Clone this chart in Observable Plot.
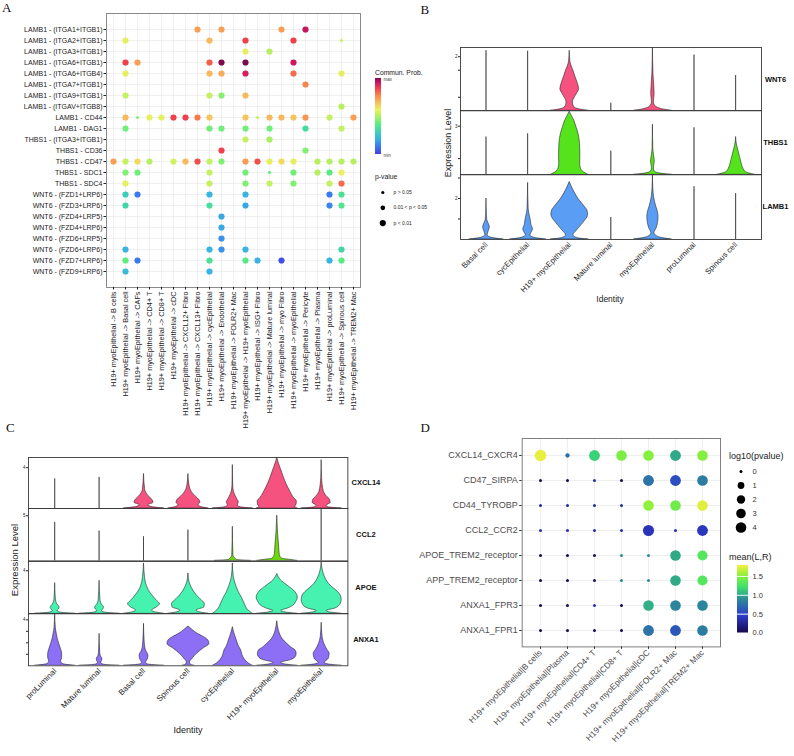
<!DOCTYPE html>
<html><head><meta charset="utf-8">
<script src="https://cdn.jsdelivr.net/npm/d3@7"></script>
<script src="https://cdn.jsdelivr.net/npm/@observablehq/plot@0.6"></script>
<style>
body{margin:0;background:#fff;}
#fig{position:relative;width:794px;height:756px;overflow:hidden;background:#fff;font-family:"Liberation Sans",Arial,sans-serif;}
</style></head><body><div id="fig"></div>
<script>
// ---------------- DATA ----------------
// Panel A
const sourceA = "H19+ myoEpithelial";
const targetsA = ["B cells","Basal cell","CAFs","CD4+ T","CD8+ T","cDC","CXCL12+ Fibro","CXCL13+ Fibro","cycEpithelial","Endothelial","FOLR2+ Mac","H19+ myoEpithelial","ISG+ Fibro","Mature luminal","myo Fibro","myoEpithelial","Pericyte","Plasma","proLuminal","Spinous cell","TREM2+ Mac"];
const pairsA = ["LAMB1 - (ITGA1+ITGB1)","LAMB1 - (ITGA2+ITGB1)","LAMB1 - (ITGA3+ITGB1)","LAMB1 - (ITGA6+ITGB1)","LAMB1 - (ITGA6+ITGB4)","LAMB1 - (ITGA7+ITGB1)","LAMB1 - (ITGA9+ITGB1)","LAMB1 - (ITGAV+ITGB8)","LAMB1 - CD44","LAMB1 - DAG1","THBS1 - (ITGA3+ITGB1)","THBS1 - CD36","THBS1 - CD47","THBS1 - SDC1","THBS1 - SDC4","WNT6 - (FZD1+LRP6)","WNT6 - (FZD3+LRP6)","WNT6 - (FZD4+LRP5)","WNT6 - (FZD4+LRP6)","WNT6 - (FZD6+LRP5)","WNT6 - (FZD6+LRP6)","WNT6 - (FZD7+LRP6)","WNT6 - (FZD9+LRP6)"];
// [pair index, target index, relative commun. prob (0=min..1=max), p-value class (1: p>0.05, 2: 0.01<p<0.05, 3: p<0.01)]
const commA = [
 [0,7,0.72,3],[0,9,0.72,3],[0,14,0.72,3],[0,16,0.94,3],
 [1,1,0.57,3],[1,8,0.68,3],[1,11,0.86,3],[1,15,0.86,3],[1,19,0.52,1],
 [2,11,0.57,3],[2,13,0.5,3],
 [3,1,0.86,3],[3,2,0.72,3],[3,8,0.82,3],[3,9,1.0,3],[3,11,1.0,3],[3,15,0.93,3],
 [4,1,0.57,3],[4,8,0.68,3],[4,9,0.7,3],[4,11,0.92,3],[4,15,0.8,3],[4,19,0.57,3],
 [5,16,0.76,3],
 [6,1,0.52,3],[6,8,0.52,3],[6,9,0.45,3],[6,11,0.68,3],
 [7,19,0.5,3],
 [8,1,0.68,3],[8,2,0.45,1],[8,3,0.57,3],[8,4,0.57,3],[8,5,0.86,3],[8,6,0.86,3],[8,7,0.78,3],[8,8,0.66,3],[8,11,0.66,3],[8,12,0.52,1],[8,13,0.68,3],[8,14,0.68,3],[8,15,0.66,3],[8,16,0.74,3],[8,18,0.52,3],[8,20,0.72,3],
 [9,1,0.42,3],[9,8,0.42,3],[9,9,0.42,3],[9,11,0.42,3],[9,13,0.42,3],[9,16,0.32,3],[9,19,0.52,3],
 [10,11,0.52,3],[10,13,0.48,3],
 [11,9,0.86,3],[11,16,0.44,3],
 [12,0,0.72,3],[12,1,0.52,3],[12,2,0.62,3],[12,3,0.5,3],[12,5,0.54,3],[12,6,0.68,3],[12,7,0.84,3],[12,8,0.52,3],[12,9,0.44,3],[12,11,0.72,3],[12,12,0.84,3],[12,13,0.57,3],[12,14,0.62,3],[12,15,0.57,3],[12,17,0.5,3],[12,18,0.5,3],[12,19,0.5,3],[12,20,0.5,3],
 [13,1,0.44,3],[13,2,0.42,3],[13,8,0.52,3],[13,11,0.42,3],[13,13,0.4,1],[13,15,0.42,3],[13,17,0.5,3],[13,18,0.38,3],[13,19,0.58,3],
 [14,1,0.57,3],[14,8,0.52,3],[14,11,0.44,3],[14,13,0.52,3],[14,15,0.44,3],[14,18,0.52,3],[14,19,0.8,3],
 [15,1,0.27,3],[15,2,0.1,3],[15,8,0.2,3],[15,11,0.2,3],[15,18,0.1,3],[15,19,0.34,3],
 [16,1,0.3,3],[16,8,0.33,3],[16,11,0.18,3],[16,18,0.12,3],[16,19,0.36,3],
 [17,9,0.18,3],[18,9,0.18,3],[19,9,0.14,3],
 [20,1,0.2,3],[20,8,0.2,3],[20,9,0.14,3],[20,11,0.2,3],[20,19,0.3,3],
 [21,1,0.4,3],[21,2,0.1,3],[21,8,0.34,3],[21,11,0.38,3],[21,12,0.2,3],[21,14,0.02,3],[21,18,0.2,3],[21,19,0.38,3],
 [22,1,0.22,3],[22,8,0.2,3]
];
const pLabelsA = ["p > 0.05","0.01 < p < 0.05","p < 0.01"];

// Panel B (violins: [expression level, relative density] per group)
const groupsB = ["Basal cell","cycEpithelial","H19+ myoEpithelial","Mature luminal","myoEpithelial","proLuminal","Spinous cell"];
const vlnWNT6 = [
 [[0,0],[2.22,0]],
 [[0,0],[2.2,0]],
 [[0,1],[0.05,0.55],[0.12,0.26],[0.31,0.17],[0.62,0.38],[0.8,0.5],[0.99,0.44],[1.23,0.32],[1.48,0.2],[1.67,0.09],[1.85,0.03],[2.22,0]],
 [[0,0],[0.28,0]],
 [[0,1],[0.06,0.5],[0.15,0.17],[0.31,0.05],[0.62,0.09],[0.93,0.07],[1.36,0.03],[2.35,0]],
 [[0,0],[2.06,0]],
 [[0,0],[1.3,0]]
];
const vlnTHBS1 = [
 [[0,0],[2.33,0]],
 [[0,0],[2.53,0]],
 [[0,1],[0.16,0.75],[0.37,0.6],[0.68,0.56],[1.3,0.57],[1.91,0.55],[2.53,0.47],[2.94,0.36],[3.35,0.24],[3.66,0.1],[3.9,0]],
 [[0,0],[1.46,0]],
 [[0,1],[0.08,0.4],[0.2,0.1],[0.4,0.05],[0.8,0.1],[1.2,0.06],[1.6,0.02],[3.09,0]],
 [[0,0],[2.9,0]],
 [[0,1],[0.16,0.53],[0.37,0.39],[0.68,0.3],[1.09,0.21],[1.5,0.12],[1.81,0.05],[2.33,0]]
];
const vlnLAMB1 = [
 [[0,0.9],[0.08,0.3],[0.2,0.06],[0.4,0.12],[0.6,0.18],[0.8,0.1],[0.95,0.04],[1.2,0.02],[2.0,0]],
 [[0,0.95],[0.08,0.35],[0.2,0.12],[0.35,0.2],[0.5,0.26],[0.7,0.18],[0.95,0.14],[1.2,0.08],[1.5,0.03],[2.76,0]],
 [[0,1],[0.07,0.4],[0.2,0.2],[0.45,0.4],[0.8,0.72],[1.19,0.98],[1.4,0.95],[1.6,0.8],[2.0,0.45],[2.4,0.2],[2.8,0]],
 [[0,0],[1.07,0]],
 [[0,1],[0.08,0.45],[0.2,0.15],[0.3,0.08],[0.55,0.2],[0.8,0.27],[1.1,0.3],[1.4,0.25],[1.6,0.18],[2.08,0.06],[2.5,0.02],[3.14,0]],
 [[0,0],[2.57,0]],
 [[0,0],[2.24,0]]
];

// Panel C
const groupsC = ["proLuminal","Mature luminal","Basal cell","Spinous cell","cycEpithelial","H19+ myoEpithelial","myoEpithelial"];
const vlnCXCL14 = [
 [[0,0],[2.9,0]],
 [[0,0],[3.05,0]],
 [[0,1],[0.16,0.35],[0.33,0.22],[0.56,0.48],[0.82,0.42],[1.15,0.26],[1.48,0.13],[1.8,0.06],[3.38,0]],
 [[0,1],[0.16,0.6],[0.33,0.5],[0.56,0.6],[0.82,0.55],[1.15,0.38],[1.48,0.22],[1.8,0.12],[2.3,0.05],[3.38,0]],
 [[0,1],[0.12,0.4],[0.3,0.25],[0.6,0.3],[0.9,0.22],[1.3,0.12],[1.7,0.05],[2.2,0.02],[4.26,0]],
 [[0,1.02],[0.15,0.9],[0.4,0.97],[0.7,0.98],[1.0,0.85],[1.48,0.7],[2.0,0.56],[2.46,0.45],[3.0,0.34],[3.44,0.26],[4.1,0.14],[4.6,0.05],[5.0,0]],
 [[0,1],[0.12,0.35],[0.28,0.25],[0.55,0.45],[0.85,0.42],[1.2,0.25],[1.6,0.12],[2.3,0.05],[3.0,0.02],[4.75,0]]
];
const vlnCCL2 = [
 [[0,0],[4.26,0]],
 [[0,0],[3.3,0]],
 [[0,0],[2.67,0]],
 [[0,0],[3.4,0]],
 [[0,0.9],[0.1,0.2],[0.25,0.14],[0.4,0.06],[0.6,0.03],[3.78,0]],
 [[0,1],[0.1,0.7],[0.25,0.25],[0.5,0.15],[0.8,0.12],[1.4,0.1],[2.0,0.08],[2.8,0.05],[3.5,0.03],[5.0,0]],
 [[0,0],[5.8,0]]
];
const vlnAPOE = [
 [[0,1],[0.12,0.25],[0.25,0.12],[0.45,0.2],[0.6,0.22],[0.85,0.12],[1.1,0.06],[1.5,0.03],[2.85,0]],
 [[0,1],[0.12,0.25],[0.25,0.12],[0.45,0.2],[0.6,0.22],[0.85,0.12],[1.2,0.05],[3.07,0]],
 [[0,1],[0.15,0.55],[0.3,0.4],[0.6,0.65],[0.9,0.8],[1.2,0.65],[1.52,0.5],[2.0,0.3],[2.45,0.17],[3.0,0.08],[3.4,0.05],[4.68,0]],
 [[0,1],[0.15,0.55],[0.3,0.4],[0.6,0.8],[0.9,0.82],[1.36,0.6],[1.75,0.4],[2.14,0.25],[2.6,0.12],[2.9,0.06],[3.75,0]],
 [[0,1],[0.2,0.85],[0.5,0.7],[0.9,0.6],[1.5,0.45],[2.0,0.3],[2.45,0.2],[3.0,0.1],[3.4,0.05],[4.68,0]],
 [[0,1],[0.12,0.45],[0.25,0.2],[0.5,0.55],[0.74,0.8],[1.1,0.95],[1.52,1.03],[1.9,0.95],[2.14,0.85],[2.5,0.6],[2.76,0.42],[3.0,0.25],[3.22,0.14],[3.69,0]],
 [[0,1],[0.12,0.45],[0.25,0.25],[0.5,0.7],[0.9,0.95],[1.3,1.0],[1.7,0.95],[2.14,0.75],[2.6,0.45],[3.0,0.28],[3.38,0.17],[4.0,0.06],[4.77,0]]
];
const vlnANXA1 = [
 [[0,1],[0.15,0.4],[0.35,0.3],[0.7,0.35],[1.04,0.35],[1.5,0.28],[1.91,0.2],[2.4,0.12],[2.78,0.08],[3.3,0.03],[4.52,0]],
 [[0,1],[0.1,0.2],[0.25,0.08],[0.45,0.13],[0.6,0.14],[0.85,0.06],[1.2,0.03],[2.78,0]],
 [[0,1],[0.12,0.2],[0.25,0.1],[0.6,0.2],[0.9,0.22],[1.25,0.12],[1.6,0.06],[2.2,0.03],[3.65,0]],
 [[0,0.3],[0.1,0.12],[0.3,0.08],[0.6,0.2],[1.04,0.43],[1.5,0.75],[1.9,1.05],[2.2,1.0],[2.49,0.78],[2.8,0.45],[3.1,0.22],[3.42,0]],
 [[0,1],[0.2,0.8],[0.5,0.62],[1.0,0.47],[1.33,0.42],[1.7,0.3],[2.2,0.2],[2.7,0.1],[3.0,0.05],[3.36,0]],
 [[0,1],[0.12,0.4],[0.25,0.2],[0.5,0.7],[0.75,0.92],[1.0,0.97],[1.33,0.92],[1.6,0.7],[1.91,0.5],[2.3,0.28],[2.7,0.15],[3.07,0.08],[3.88,0]],
 [[0,1],[0.12,0.35],[0.25,0.15],[0.6,0.35],[1.04,0.4],[1.4,0.28],[1.77,0.17],[2.2,0.08],[2.6,0.04],[3.74,0]]
];

// Panel D
const sourceD = "H19+ myoEpithelial";
const cellsD = ["B cells","Plasma","CD4+ T","CD8+ T","cDC","FOLR2+ Mac","TREM2+ Mac"];
const pairsD = ["CXCL14_CXCR4","CD47_SIRPA","CD44_TYROBP","CCL2_CCR2","APOE_TREM2_receptor","APP_TREM2_receptor","ANXA1_FPR3","ANXA1_FPR1"];
const meanD = [
 [1.75,0.72,1.15,1.45,1.48,1.0,1.48],
 [0.02,0.02,0.35,0.02,0.75,0.55,0.8],
 [0.3,0.3,0.3,0.3,1.52,1.4,1.72],
 [0.35,0.35,0.35,0.35,0.38,0.35,0.4],
 [0.02,0.02,0.05,0.9,0.9,1.0,1.3],
 [0.02,0.02,0.05,0.88,0.88,1.0,1.3],
 [0.02,0.02,0.35,0.02,1.02,0.85,0.85],
 [0.02,0.02,0.02,0.02,0.75,0.6,0.8]
];
const logpD = [
 [5.0,0.12,4.2,4.0,4.0,4.2,4.0],
 [0,0,0,0,4.2,4.2,4.0],
 [0,0,0,0,4.0,4.0,4.0],
 [0,0,0,0,4.5,0,4.2],
 [0,0,0,0,0,4.0,3.6],
 [0,0,0,0,0,4.0,3.6],
 [0,0,0,0,4.0,4.0,4.0],
 [0,0,0,0,4.2,4.2,4.0]
];
const sizeTicksD = [0,1,2,3,4];
const colorTicksD = [0,0.5,1.0,1.5];

// ---------------- HELPERS ----------------
const FONT = "Liberation Sans, Arial, Helvetica, sans-serif";
const fig = document.getElementById("fig");
function put(node, left, top){
  node.style.position = "absolute"; node.style.left = left + "px"; node.style.top = top + "px";
  node.style.overflow = "visible"; node.style.maxWidth = "none"; node.style.background = "transparent";
  fig.appendChild(node); return node;
}
const baseStyle = {fontFamily: FONT, background: "transparent", overflow: "visible", color: "#222"};

// ---------------- PANEL A ----------------
const colorA = {type: "linear",
  domain: [0,0.1,0.2,0.3,0.4,0.5,0.58,0.68,0.78,0.86,0.93,1],
  range: ["#4444e6","#3a7af0","#38b4e2","#3fd6a8","#5cef7c","#b6f062","#ecf05e","#f8b85c","#f87a4a","#f0404c","#d0185e","#7e0a4e"]};
const rA = {type: "linear", domain: [1,3], range: [1.6,3.1]};
const dataA = commA.map(([p,t,v,s]) => ({pair: pairsA[p], target: targetsA[t], prob: v, pcls: s}));
put(Plot.plot({
  width: 362, height: 440, marginLeft: 106, marginRight: 2, marginTop: 13, marginBottom: 153,
  style: {...baseStyle, fontSize: "7px"},
  x: {type: "point", domain: targetsA, padding: 0.56},
  y: {type: "point", domain: pairsA, padding: 0.6},
  color: colorA, r: rA,
  marks: [
    Plot.gridX({stroke: "#e6e6e6", strokeOpacity: 1, strokeWidth: 0.6}),
    Plot.gridY({stroke: "#e6e6e6", strokeOpacity: 1, strokeWidth: 0.6}),
    Plot.frame({stroke: "#8a8a8a", strokeWidth: 1}),
    Plot.dot(dataA, {x: "target", y: "pair", r: "pcls", fill: "prob"}),
    Plot.axisY({tickSize: 2.5, tickPadding: 1.5, fontSize: 7, label: null}),
    Plot.axisX({tickSize: 2.5, tickPadding: 1.5, tickRotate: -90, fontSize: 7.3, label: null, tickFormat: d => `${sourceA} -> ${d}`})
  ]
}), 0, 0);

// Panel A colour bar (overlapping slices so that no white seams show)
put(Plot.plot({
  width: 20, height: 86, marginTop: 5, marginBottom: 5, marginLeft: 0, marginRight: 0,
  style: baseStyle,
  x: {domain: [0,1], range: [4.7,10.7], axis: null},
  y: {domain: [0,1], axis: null},
  color: colorA,
  marks: [Plot.rect(d3.range(0,1,0.01), {x1: () => 0, x2: () => 1, y1: d => d, y2: d => Math.min(1, d + 0.03), fill: d => d, shapeRendering: "crispEdges"})]
}), 370, 73.3);
// Panel A size legend
put(Plot.plot({
  width: 70, height: 41, marginTop: 5, marginBottom: 5, marginLeft: 0, marginRight: 0,
  style: baseStyle,
  x: {domain: [0,1], range: [12.3,23], axis: null},
  y: {domain: [1,3], range: [5,35.6], axis: null},
  r: rA,
  marks: [
    Plot.dot([1,2,3], {x: () => 0, y: d => d, r: d => d, fill: "#000"}),
    Plot.text([1,2,3], {x: () => 1, y: d => d, text: d => pLabelsA[d-1], textAnchor: "start", fontSize: 5, fill: "#222"})
  ]
}), 370, 186.7);

// ---------------- VIOLIN ROWS (B, C) ----------------
function violinRow(p){
  const data = [];
  p.groups.forEach((g,i) => p.profile[i].forEach(([lvl,dens]) => data.push({g, i, lvl, dens})));
  const hw = 0.45;
  const [x0,x1,y0,y1] = p.frame;
  const mL = 24, mR = 50, mT = 1, mB = p.showX ? 100 : 1;
  const marks = [
    Plot.areaX(data, {y: "lvl", x1: d => d.i - hw*d.dens, x2: d => d.i + hw*d.dens, z: "g",
      fill: p.color, stroke: "#1a1a1a", strokeWidth: 0.55, curve: "monotone-y", clip: true}),
    Plot.frame({stroke: "#3a3a3a", strokeWidth: 0.9}),
    Plot.axisY({ticks: p.ticks, tickSize: 2, tickPadding: 1, fontSize: 4.5, label: null,
      tickFormat: d => d === p.labelTick ? String(d) : ""}),
    Plot.text([p.gene], {frameAnchor: "right", dx: p.stripDx, textAnchor: "middle", text: d => d,
      fontWeight: "bold", fontSize: 7.5, fill: "#111"})
  ];
  if (p.showX) marks.push(Plot.axisX({ticks: p.groups.map((g,i) => i), tickFormat: i => p.groups[i],
      tickRotate: -45, tickSize: 0, tickPadding: 4, fontSize: p.xFont, label: null, fill: "#222"}));
  put(Plot.plot({
    width: x1-x0+mL+mR, height: y1-y0+mT+mB,
    marginLeft: mL, marginRight: mR, marginTop: mT, marginBottom: mB,
    style: {...baseStyle, fontSize: "5px"},
    x: p.showX ? {domain: p.dom} : {domain: p.dom, axis: null},
    y: {domain: [0, p.ymax]},
    marks
  }), x0-mL, y0-mT);
}
const domB = [-0.625, 6.61];
violinRow({gene: "WNT6", groups: groupsB, profile: vlnWNT6, color: "#f5527f", frame: [460,761,46.7,110], dom: domB, ymax: 2.34, ticks: [0.5,1.5,2], labelTick: 2, stripDx: 14});
violinRow({gene: "THBS1", groups: groupsB, profile: vlnTHBS1, color: "#55e31c", frame: [460,761,110,174.3], dom: domB, ymax: 3.97, ticks: [1,3], labelTick: 3, stripDx: 14});
violinRow({gene: "LAMB1", groups: groupsB, profile: vlnLAMB1, color: "#5a9df5", frame: [460,761,174.3,239.3], dom: domB, ymax: 3.17, ticks: [1,2,3], labelTick: 2, stripDx: 14, showX: true, xFont: 7.8});

const domC = [-0.6, 6.59];
violinRow({gene: "CXCL14", groups: groupsC, profile: vlnCXCL14, color: "#f5527f", frame: [28.3,347.7,457.3,508.3], dom: domC, ymax: 5.0, ticks: [4], labelTick: 4, stripDx: 18});
violinRow({gene: "CCL2", groups: groupsC, profile: vlnCCL2, color: "#6fd80c", frame: [28.3,347.7,508.3,560.7], dom: domC, ymax: 5.8, ticks: [5], labelTick: 5, stripDx: 18});
violinRow({gene: "APOE", groups: groupsC, profile: vlnAPOE, color: "#45f2b0", frame: [28.3,347.7,560.7,613], dom: domC, ymax: 4.86, ticks: [4], labelTick: 4, stripDx: 18});
violinRow({gene: "ANXA1", groups: groupsC, profile: vlnANXA1, color: "#8c6ff5", frame: [28.3,347.7,613,665.3], dom: domC, ymax: 4.55, ticks: [1,2,3,4], labelTick: 4, stripDx: 18, showX: true, xFont: 8});

// ---------------- PANEL D ----------------
const colorD = {type: "linear", domain: [0,0.45,0.9,1.2,1.5,1.78],
  range: ["#170a50","#2c3ccc","#2c8e96","#3ce070","#88f03a","#f5ef3e"]};
const rD = {type: "sqrt", domain: [0,4], range: [1.5,5.3]};
const dataD = [];
pairsD.forEach((pr,i) => cellsD.forEach((c,j) => dataD.push({pair: pr, cell: c, mean: meanD[i][j], logp: logpD[i][j]})));
put(Plot.plot({
  width: 332, height: 323.4, marginLeft: 131.7, marginRight: 2, marginTop: 5, marginBottom: 110,
  style: {...baseStyle, fontSize: "9px", color: "#4d4d4d"},
  x: {type: "point", domain: cellsD, padding: 0.6},
  y: {type: "point", domain: pairsD, padding: 0.6},
  color: colorD, r: rD,
  marks: [
    Plot.gridX({stroke: "#ebebeb", strokeOpacity: 1, strokeWidth: 0.8}),
    Plot.gridY({stroke: "#ebebeb", strokeOpacity: 1, strokeWidth: 0.8}),
    Plot.frame({stroke: "#7f7f7f", strokeWidth: 1}),
    Plot.dot(dataD, {x: "cell", y: "pair", r: "logp", fill: "mean"}),
    Plot.axisY({tickSize: 2.5, tickPadding: 2, fontSize: 9, label: null, stroke: "#333"}),
    Plot.axisX({tickSize: 2.5, tickPadding: 2, tickRotate: -45, fontSize: 8.4, label: null, stroke: "#333",
      tickFormat: d => `${sourceD}|${d}`})
  ]
}), 390, 433.3);
// D size legend
put(Plot.plot({
  width: 60, height: 66, marginTop: 5, marginBottom: 5, marginLeft: 0, marginRight: 0,
  style: baseStyle,
  x: {domain: [0,1], range: [15.5,27], axis: null},
  y: {domain: [0,4], range: [5,61], axis: null},
  r: rD,
  marks: [
    Plot.dot(sizeTicksD, {x: () => 0, y: d => d, r: d => d, fill: "#000"}),
    Plot.text(sizeTicksD, {x: () => 1, y: d => d, text: d => String(d), textAnchor: "start", fontSize: 7.5, fill: "#333"})
  ]
}), 725, 465.7);
// D colour bar (overlapping slices)
put(Plot.plot({
  width: 60, height: 78.3, marginTop: 5, marginBottom: 5, marginLeft: 0, marginRight: 0,
  style: baseStyle,
  x: {domain: [0,1], range: [12,22.5], axis: null},
  y: {domain: [-0.02,1.79], axis: null},
  color: colorD,
  marks: [
    Plot.rect(d3.range(-0.02,1.79,0.01), {x1: () => 0, x2: () => 1, y1: d => d, y2: d => Math.min(1.79, d + 0.04), fill: d => d, shapeRendering: "crispEdges"}),
    Plot.tickY(colorTicksD, {x1: () => 0, x2: () => 0.2, y: d => d, stroke: "#fff", strokeWidth: 0.6}),
    Plot.tickY(colorTicksD, {x1: () => 0.8, x2: () => 1, y: d => d, stroke: "#fff", strokeWidth: 0.6}),
    Plot.text(colorTicksD, {x: () => 1, y: d => d, dx: 4.5, text: d => d.toFixed(1), textAnchor: "start", fontSize: 7.5, fill: "#333"})
  ]
}), 725, 560);

// ---------------- TEXT OVERLAY ----------------
const ov = d3.create("svg").attr("width", 794).attr("height", 756).style("pointer-events", "none");
function txt(s, x, y, o = {}){
  const t = ov.append("text").attr("x", x).attr("y", y).text(s)
    .attr("font-family", o.serif ? "Liberation Serif, Times New Roman, serif" : FONT)
    .attr("font-size", o.size || 9).attr("fill", o.fill || "#111")
    .attr("text-anchor", o.anchor || "start");
  if (o.rot) t.attr("transform", `rotate(${o.rot},${x},${y})`);
  if (o.weight) t.attr("font-weight", o.weight);
}
txt("A", 2, 12, {serif: true, size: 13});
txt("B", 420.5, 14, {serif: true, size: 13});
txt("C", 6, 431.5, {serif: true, size: 13});
txt("D", 420.5, 431.5, {serif: true, size: 13});
txt("Commun. Prob.", 375, 74.5, {size: 6.8, fill: "#222"});
txt("max", 383.5, 80.5, {size: 4.5, fill: "#444"});
txt("min", 383.5, 156.5, {size: 4.5, fill: "#444"});
txt("p-value", 375, 179, {size: 6.8, fill: "#222"});
txt("Expression Level", 451, 143, {size: 9, anchor: "middle", rot: -90, fill: "#222"});
txt("Identity", 610, 302, {size: 8.5, anchor: "middle", fill: "#222"});
txt("Expression Level", 17.5, 560, {size: 9.5, anchor: "middle", rot: -90, fill: "#222"});
txt("Identity", 188, 732.5, {size: 9, anchor: "middle", fill: "#222"});
txt("log10(pvalue)", 729, 458.5, {size: 9, fill: "#222"});
txt("mean(L,R)", 729, 560, {size: 9, fill: "#222"});
put(ov.node(), 0, 0);
</script></body></html>
